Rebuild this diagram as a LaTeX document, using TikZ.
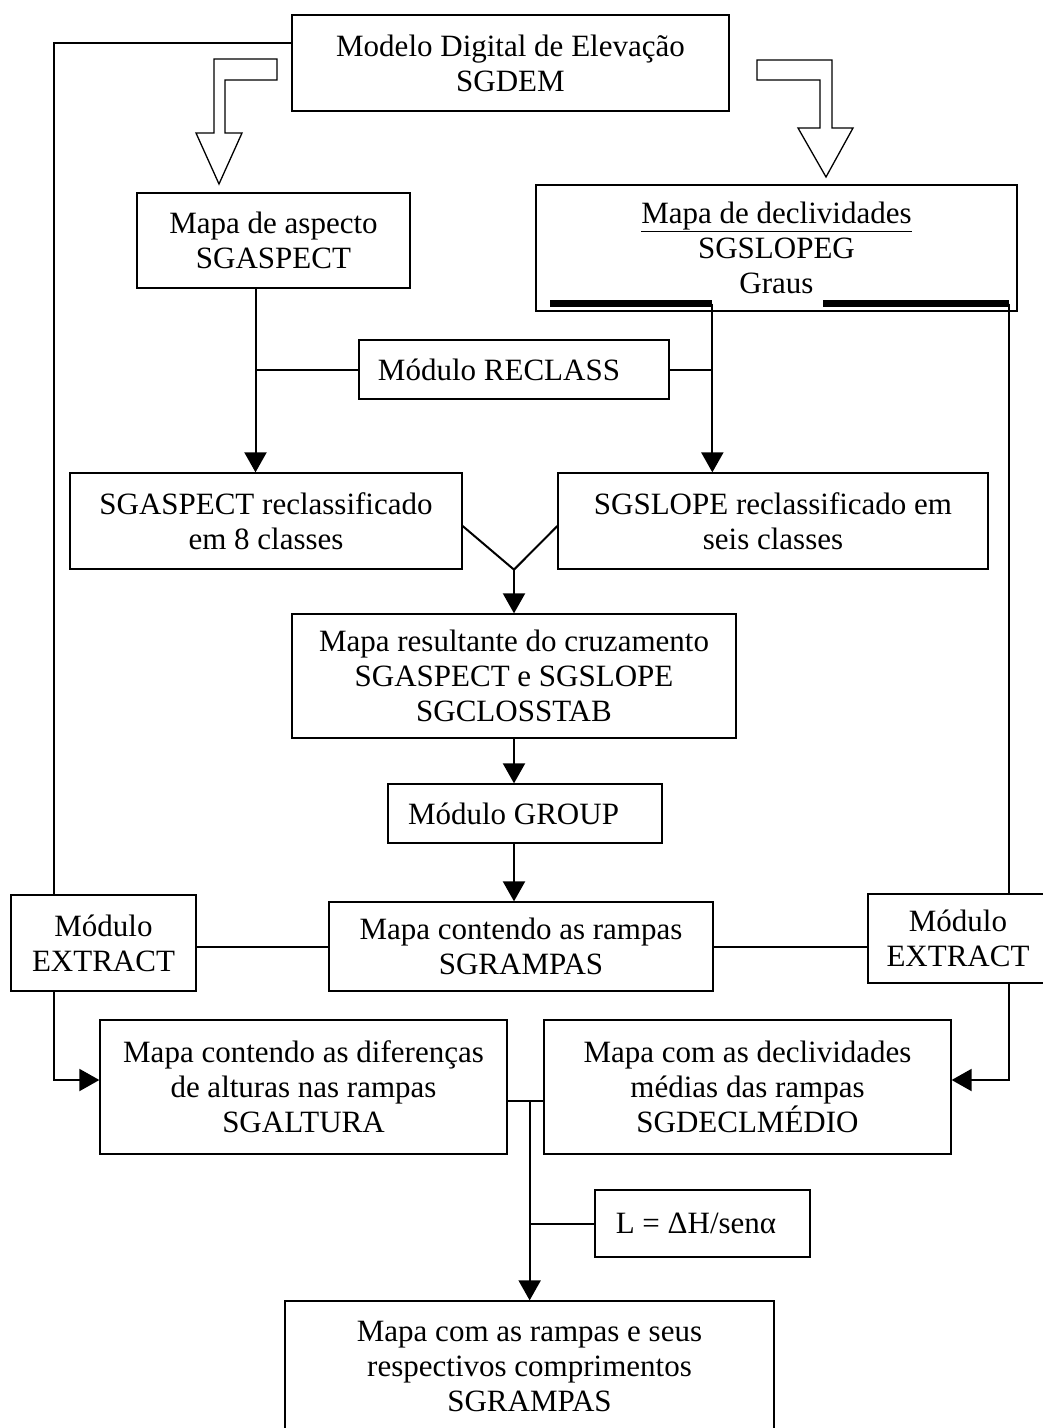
\documentclass[tikz,border=0pt]{standalone}
\usepackage{fontspec}
\setmainfont{Liberation Serif}
\usetikzlibrary{arrows.meta,calc}
\begin{document}
\begin{tikzpicture}[x=1pt,y=-1pt,
  box/.style={draw,line width=1.3pt,inner sep=0pt,align=center,
    font=\fontsize{31}{35}\selectfont},
  conn/.style={line width=2pt},
  arr/.style={conn,-{Triangle[length=20pt,width=22pt]}},
  hollow/.style={draw,line width=1.3pt,fill=white,line join=miter}]
\useasboundingbox (0,0) rectangle (1043,1428);

% nodes
\node[box,minimum width=437pt,minimum height=96pt] (dem) at (510.5,63) {Modelo Digital de Elevação\\SGDEM};
\node[box,minimum width=273pt,minimum height=95pt] (asp) at (273.5,240.5) {Mapa de aspecto\\SGASPECT};
\node[box,minimum width=481pt,minimum height=126pt] (decl) at (776.5,248) {\underline{Mapa de declividades}\\SGSLOPEG\\Graus};
\node[box,minimum width=310pt,minimum height=59pt] (recl) at (514,369.5) {Módulo RECLASS\hspace*{30pt}};
\node[box,minimum width=392pt,minimum height=96pt] (asprc) at (266,521) {SGASPECT reclassificado\\em 8 classes};
\node[box,minimum width=430pt,minimum height=96pt] (slprc) at (773,521) {SGSLOPE reclassificado em\\seis classes};
\node[box,minimum width=444pt,minimum height=124pt] (cruz) at (514,676) {Mapa resultante do cruzamento\\SGASPECT e SGSLOPE\\SGCLOSSTAB};
\node[box,minimum width=274pt,minimum height=59pt] (group) at (525,813.5) {Módulo GROUP\hspace*{23pt}};
\node[box,minimum width=185pt,minimum height=96pt] (extL) at (103.5,943) {Módulo\\EXTRACT};
\node[box,minimum width=384pt,minimum height=89pt] (ramp) at (521,946.5) {Mapa contendo as rampas\\SGRAMPAS};
\node[box,minimum width=180pt,minimum height=89pt] (extR) at (958,938.5) {Módulo\\EXTRACT};
\node[box,minimum width=407pt,minimum height=134pt] (alt) at (303.5,1087) {Mapa contendo as diferenças\\de alturas nas rampas\\SGALTURA};
\node[box,minimum width=407pt,minimum height=134pt] (decm) at (747.5,1087) {Mapa com as declividades\\médias das rampas\\SGDECLMÉDIO};
\node[box,minimum width=215pt,minimum height=67pt] (lbox) at (702.5,1223.5) {L = ΔH/senα\hspace*{13pt}};
\node[box,minimum width=489pt,minimum height=131pt] (final) at (529.5,1366.5) {Mapa com as rampas e seus\\respectivos comprimentos\\SGRAMPAS};

% hollow arrows from DEM
\draw[hollow] (277,59) -- (214,59) -- (214,133) -- (196,133) -- (219,184) -- (242,133) -- (225,133) -- (225,80) -- (277,80) -- cycle;
\draw[hollow] (757,60) -- (832,60) -- (832,128) -- (853,128) -- (826,177) -- (798,128) -- (820,128) -- (820,80) -- (757,80) -- cycle;

% coordinates
\coordinate (a1) at ($(asp.south)+(-18,0)$);
\coordinate (d1) at ($(decl.south west)+(177,-8)$);
\coordinate (d2) at ($(decl.south west)+(474,-8)$);
\coordinate (vj) at (cruz.north |- asprc.south);
\coordinate (aj) at ($(alt.east)+(22,14)$);

% thick bars in declividades box
\draw[line width=7pt] ($(decl.south west)+(15,-8)$) -- (d1);
\draw[line width=7pt] ($(decl.south west)+(288,-8)$) -- (d2);

% left long connector
\draw[conn] ($(dem.north west)+(0,29)$) -| ($(extL.north west)+(44,0)$);
\draw[arr] ($(extL.south west)+(44,0)$) |- ($(alt.west)+(0,-7)$);

% right connectors
\draw[conn] (d2) -- (d2 |- extR.north);
\draw[arr] (d2 |- extR.south) |- ($(decm.east)+(0,-7)$);

% reclass
\draw[arr] (a1) -- (a1 |- asprc.north);
\draw[arr] (d1) -- (d1 |- slprc.north);
\draw[conn] (recl.west) -- (recl.west -| a1);
\draw[conn] (recl.east) -- (recl.east -| d1);

% V join
\draw[conn] ($(asprc.east)+(0,5)$) -- (vj);
\draw[conn] ($(slprc.west)+(0,5)$) -- (vj);
\draw[arr] (vj) -- (cruz.north);

\draw[arr] (cruz.south) -- (cruz.south |- group.north);
\draw[arr] (group.south -| cruz.south) -- (cruz.south |- ramp.north);

% extract links
\draw[conn] (ramp.west -| extL.east) -- (ramp.west);
\draw[conn] (ramp.east) -- (ramp.east -| extR.west);

% bottom
\draw[conn] ($(alt.east)+(0,14)$) -- ($(decm.west)+(0,14)$);
\draw[arr] (aj) -- (aj |- final.north);
\draw[conn] (aj |- lbox.west) -- (lbox.west);
\end{tikzpicture}
\end{document}
